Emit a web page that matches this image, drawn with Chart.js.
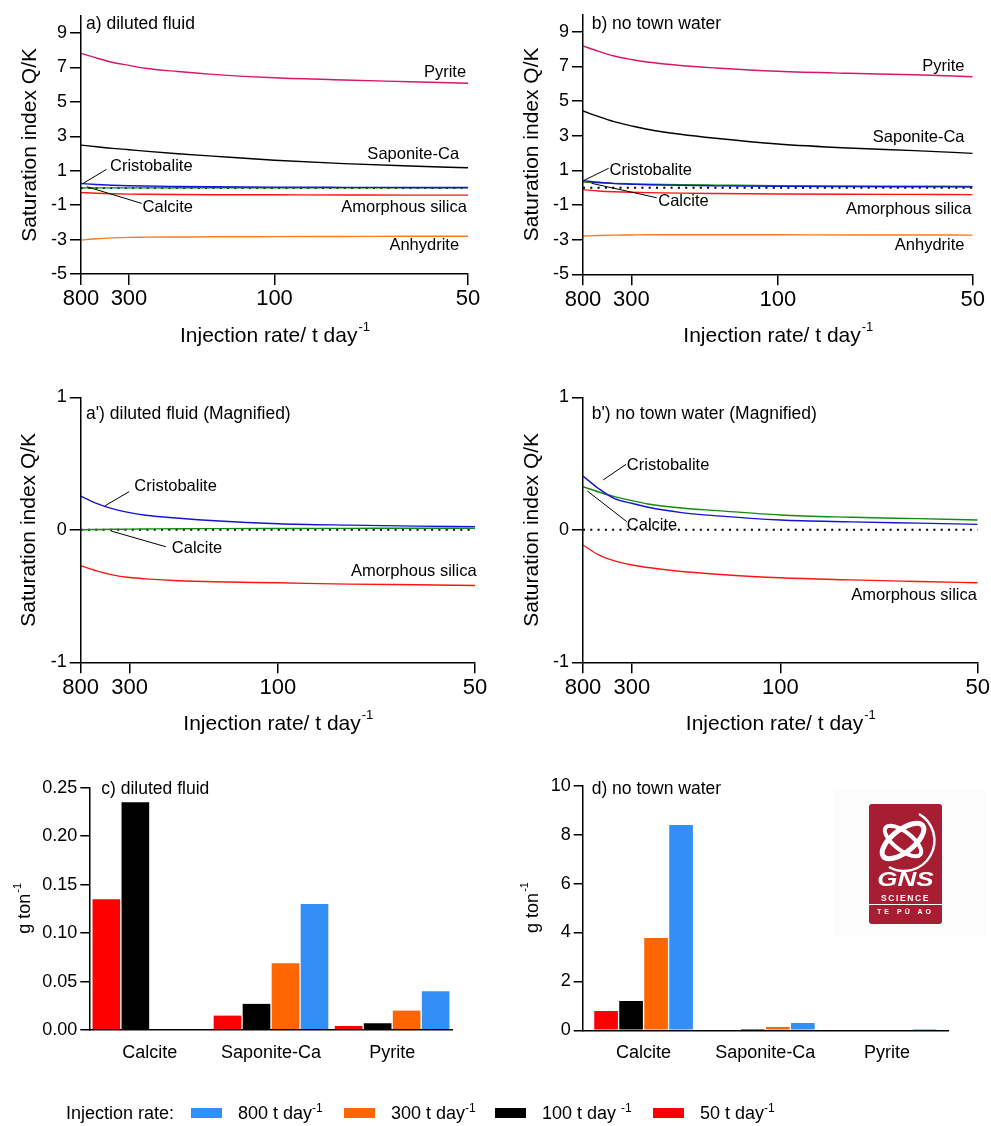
<!DOCTYPE html>
<html>
<head>
<meta charset="utf-8">
<script src="https://cdn.jsdelivr.net/npm/chart.js@4.4.1/dist/chart.umd.min.js"></script>
<style>
  html, body { margin: 0; padding: 0; background: #fff; }
  #fig { position: relative; width: 991px; height: 1126px; overflow: hidden;
         font-family: "Liberation Sans", Arial, sans-serif; color: #000; }
  #fig canvas { position: absolute; left: 0; top: 0; }
  #logoBg { position: absolute; left: 833px; top: 790px; width: 152px; height: 146px; background: #fcfcfc; }
  #logo { position: absolute; left: 869px; top: 804px; width: 73px; height: 120px; background: #a71d31;
          border-radius: 3px; color: #fff; text-align: center; overflow: hidden; }
  #logo svg { position: absolute; left: 0; top: 0; }
  #logo .gns { position: absolute; left: 0; width: 73px; top: 64px; font-weight: bold; font-style: italic;
               font-size: 20px; transform: scaleX(1.3); }
  #logo .sci { position: absolute; left: 0; width: 73px; top: 89px; font-weight: bold; font-size: 8.5px;
               letter-spacing: 1.6px; border-bottom: 1px solid #fff; padding-bottom: 1px; }
  #logo .te { position: absolute; left: 0; width: 73px; top: 104px; font-weight: bold; font-size: 7px; letter-spacing: 3px; }
  #legend { position: absolute; left: 0; top: 1100px; width: 991px; height: 26px; font-size: 18px; }
  #legend .lab { position: absolute; left: 66px; top: 3px; }
  #legend .box { position: absolute; top: 8px; width: 31px; height: 10px; }
  #legend .txt { position: absolute; top: 3px; white-space: pre; }
  #legend sup { font-size: 12px; vertical-align: 7px; line-height: 0; }
</style>
</head>
<body>
<div id="fig">
  <div id="logoBg"></div>
  <canvas id="pa" width="991" height="1126"></canvas>
  <canvas id="pb" width="991" height="1126"></canvas>
  <canvas id="pam" width="991" height="1126"></canvas>
  <canvas id="pbm" width="991" height="1126"></canvas>
  <canvas id="pc" width="991" height="1126"></canvas>
  <canvas id="pd" width="991" height="1126"></canvas>
  <div id="logo">
    <svg width="73" height="72" viewBox="0 0 73 72">
      <ellipse cx="34" cy="37" rx="25" ry="11" fill="none" stroke="#fff" stroke-width="5" transform="rotate(-38 34 37)"/>
      <ellipse cx="34" cy="37" rx="22" ry="9" fill="none" stroke="#fff" stroke-width="4" transform="rotate(38 34 37)"/>
      <path d="M 50 10 A 28 28 0 0 1 20 63" fill="none" stroke="#fff" stroke-width="2.5"/>
    </svg>
    <div class="gns">GNS</div>
    <div class="sci">SCIENCE</div>
    <div class="te">TE PŪ AO</div>
  </div>
  <div id="legend"></div>
</div>
<script>
// x axis: position along the injection-rate axis (0 = 800 t/day, 1 = 50 t/day)
const xPos = [0, 0.04, 0.08, 0.124, 0.165, 0.25, 0.34, 0.5, 0.68, 0.85, 1];
const rateTickPos = [0, 0.124, 0.5, 1];
const rateTickLabels = ['800', '300', '100', '50'];
const siTicksFull = [-5, -3, -1, 1, 3, 5, 7, 9];
const siTicksMag = [-1, 0, 1];

// a) diluted fluid - saturation index
const dilPyrite = [7.82, 7.55, 7.30, 7.12, 6.95, 6.76, 6.60, 6.40, 6.27, 6.17, 6.08];
const dilSaponite = [2.49, 2.39, 2.30, 2.22, 2.14, 1.99, 1.85, 1.61, 1.41, 1.27, 1.17];
const dilCristobalite = [0.255, 0.20, 0.16, 0.13, 0.11, 0.087, 0.068, 0.046, 0.035, 0.028, 0.024];
const dilCalcite = [0.0, 0.002, 0.004, 0.005, 0.006, 0.008, 0.009, 0.010, 0.011, 0.012, 0.012];
const dilAmorphSilica = [-0.27, -0.31, -0.34, -0.36, -0.37, -0.384, -0.392, -0.40, -0.41, -0.415, -0.42];
const dilAnhydrite = [-3.03, -2.95, -2.90, -2.87, -2.86, -2.85, -2.84, -2.83, -2.82, -2.81, -2.81];

// b) no town water - saturation index
const ntwPyrite = [8.18, 7.87, 7.60, 7.40, 7.25, 7.05, 6.91, 6.72, 6.60, 6.52, 6.40];
const ntwSaponite = [4.43, 4.10, 3.81, 3.57, 3.37, 3.08, 2.85, 2.52, 2.29, 2.14, 1.98];
const ntwCristobalite = [0.406, 0.31, 0.235, 0.20, 0.17, 0.13, 0.105, 0.074, 0.060, 0.050, 0.041];
const ntwCalcite = [0.325, 0.285, 0.25, 0.22, 0.195, 0.165, 0.145, 0.112, 0.095, 0.084, 0.074];
const ntwAmorphSilica = [-0.115, -0.19, -0.235, -0.266, -0.285, -0.315, -0.335, -0.362, -0.378, -0.39, -0.40];
const ntwAnhydrite = [-2.79, -2.76, -2.74, -2.73, -2.72, -2.72, -2.72, -2.72, -2.73, -2.73, -2.74];

// c), d) precipitated mass, g per ton
const minerals = ['Calcite', 'Saponite-Ca', 'Pyrite'];
const dil50 = [0.135, 0.015, 0.004];
const dil100 = [0.235, 0.027, 0.007];
const dil300 = [null, 0.069, 0.020];
const dil800 = [null, 0.130, 0.040];
const ntw50 = [0.79, 0, 0];
const ntw100 = [1.2, 0.05, 0];
const ntw300 = [3.77, 0.13, 0];
const ntw800 = [8.39, 0.30, 0.05];
const massTicksC = [0, 0.05, 0.10, 0.15, 0.20, 0.25];
const massTicksD = [0, 2, 4, 6, 8, 10];

const legendLabels = ['800 t day', '300 t day', '100 t day ', '50 t day'];
const legendColors = ['#338ff5', '#ff6600', '#000000', '#ff0000'];

const FONT = '"Liberation Sans", Arial, sans-serif';
const W = 991, H = 1126;
const C = { pyrite: '#d8156a', saponite: '#000000', cristobalite: '#1414d2',
            calcite: '#148a14', silica: '#ff1414', anhydrite: '#ff7a1f' };

function drawSup(ctx, main, sup, cx, cy, size) {
  ctx.font = size + 'px ' + FONT;
  const w1 = ctx.measureText(main).width;
  const ss = Math.round(size * 0.62);
  ctx.font = ss + 'px ' + FONT;
  const w2 = sup ? ctx.measureText(sup).width : 0;
  const x0 = cx - (w1 + w2) / 2;
  ctx.textAlign = 'left';
  ctx.textBaseline = 'middle';
  ctx.font = size + 'px ' + FONT;
  ctx.fillText(main, x0, cy);
  if (sup) {
    ctx.font = ss + 'px ' + FONT;
    ctx.fillText(sup, x0 + w1 + 1, cy - size * 0.42);
  }
}

function notesPlugin(spec) {
  return {
    id: 'notes',
    afterDraw(chart) {
      const { ctx, chartArea: ca, scales } = chart;
      ctx.save();
      ctx.fillStyle = '#000';
      ctx.strokeStyle = '#000';
      ctx.lineWidth = 1;
      // panel title
      ctx.font = '17.5px ' + FONT;
      ctx.textAlign = 'left';
      ctx.textBaseline = 'middle';
      ctx.fillText(spec.title, ca.left + spec.titleOff[0], ca.top + spec.titleOff[1]);
      // y title
      ctx.save();
      ctx.translate(ca.left - spec.yTitleDx, (ca.top + ca.bottom) / 2);
      ctx.rotate(-Math.PI / 2);
      drawSup(ctx, spec.yTitle[0], spec.yTitle[1], 0, 0, spec.yTitleSize);
      ctx.restore();
      // x title
      if (spec.xTitle) {
        drawSup(ctx, spec.xTitle[0], spec.xTitle[1], (ca.left + ca.right) / 2, ca.bottom + 62, 21);
      }
      // curve labels
      (spec.labels || []).forEach(n => {
        const x = scales.x, y = scales.y;
        ctx.font = '16.5px ' + FONT;
        ctx.textAlign = n.align;
        ctx.textBaseline = 'middle';
        ctx.fillText(n.text, x.getPixelForValue(n.x), y.getPixelForValue(n.y));
        if (n.from) {
          ctx.beginPath();
          ctx.moveTo(x.getPixelForValue(n.from[0]), y.getPixelForValue(n.from[1]));
          ctx.lineTo(x.getPixelForValue(n.to[0]), y.getPixelForValue(n.to[1]));
          ctx.stroke();
        }
      });
      ctx.restore();
    }
  };
}

function makeLineChart(id, box, yMin, yMax, yTicks, series, spec) {
  const Wy = 70, Hx = 45;
  const datasets = series.map(s => ({
    data: s.values.map((v, i) => ({ x: xPos[i], y: v })),
    borderColor: s.color,
    borderWidth: 1.4,
    pointRadius: 0,
    fill: false,
    cubicInterpolationMode: 'monotone'
  }));
  datasets.push({
    data: [{ x: 0, y: 0 }, { x: 1, y: 0 }],
    borderColor: '#000',
    borderWidth: 2,
    borderDash: [2, 5.3],
    pointRadius: 0,
    fill: false
  });
  new Chart(document.getElementById(id), {
    type: 'line',
    data: { datasets },
    options: {
      responsive: false,
      animation: false,
      devicePixelRatio: 1,
      layout: { padding: { left: box.left - Wy, right: W - box.right, top: box.top, bottom: H - box.bottom - Hx } },
      plugins: { legend: { display: false }, tooltip: { enabled: false } },
      scales: {
        x: {
          type: 'linear', min: 0, max: 1,
          afterFit: s => { s.height = Hx; },
          afterBuildTicks: s => { s.ticks = rateTickPos.map(v => ({ value: v })); },
          ticks: { autoSkip: false, maxRotation: 0, padding: 1, color: '#000',
                   font: { family: FONT, size: 22 }, callback: (v, i) => rateTickLabels[i] },
          grid: { drawOnChartArea: false, tickLength: 11, color: '#000', lineWidth: 1.5 },
          border: { color: '#000', width: 1.5, z: 1 }
        },
        y: {
          type: 'linear', min: yMin, max: yMax,
          afterFit: s => { s.width = Wy; },
          afterBuildTicks: s => { s.ticks = yTicks.map(v => ({ value: v })); },
          ticks: { autoSkip: false, padding: 3, color: '#000', font: { family: FONT, size: 18 } },
          grid: { drawOnChartArea: false, tickLength: 11, color: '#000', lineWidth: 1.5 },
          border: { color: '#000', width: 1.5, z: 1 }
        }
      }
    },
    plugins: [notesPlugin(spec)]
  });
}

function makeBarChart(id, box, yMax, yTicks, values, thickness, fmt, spec) {
  const Wy = 60, Hx = 40;
  const colors = ['#ff0000', '#000000', '#ff6600', '#338ff5'];
  new Chart(document.getElementById(id), {
    type: 'bar',
    data: {
      labels: minerals,
      datasets: values.map((v, i) => ({
        data: v,
        backgroundColor: colors[i],
        borderColor: '#fff',
        borderWidth: { left: 1, right: 1, top: 0, bottom: 0 },
        barThickness: thickness
      }))
    },
    options: {
      responsive: false,
      animation: false,
      devicePixelRatio: 1,
      layout: { padding: { left: box.left - Wy, right: W - box.right, top: box.top, bottom: H - box.bottom - Hx } },
      plugins: { legend: { display: false }, tooltip: { enabled: false } },
      scales: {
        x: {
          type: 'category',
          afterFit: s => { s.height = Hx; },
          ticks: { padding: 12, color: '#000', font: { family: FONT, size: 18 }, maxRotation: 0 },
          grid: { display: false, drawTicks: false },
          border: { color: '#000', width: 1.5, z: 1 }
        },
        y: {
          type: 'linear', min: 0, max: yMax,
          afterFit: s => { s.width = Wy; },
          afterBuildTicks: s => { s.ticks = yTicks.map(v => ({ value: v })); },
          ticks: { autoSkip: false, padding: 3, color: '#000', font: { family: FONT, size: 18 }, callback: fmt },
          grid: { drawOnChartArea: false, tickLength: 9, color: '#000', lineWidth: 1.5 },
          border: { color: '#000', width: 1.5, z: 1 }
        }
      }
    },
    plugins: [notesPlugin(spec)]
  });
}

const SI_TITLE = ['Saturation index Q/K', ''];
const X_TITLE = ['Injection rate/ t day', '-1'];
const MASS_TITLE = ['g ton', '-1'];

makeLineChart('pa', { left: 81, right: 468, top: 15.8, bottom: 274 }, -5, 10, siTicksFull, [
  { values: dilPyrite, color: C.pyrite },
  { values: dilSaponite, color: C.saponite },
  { values: dilAnhydrite, color: C.anhydrite },
  { values: dilAmorphSilica, color: C.silica },
  { values: dilCristobalite, color: C.cristobalite },
  { values: dilCalcite, color: C.calcite }
], {
  title: 'a) diluted fluid', titleOff: [5, 8], yTitle: SI_TITLE, yTitleDx: 51, yTitleSize: 21, xTitle: X_TITLE,
  labels: [
    { text: 'Pyrite', x: 0.995, y: 6.68, align: 'right' },
    { text: 'Saponite-Ca', x: 0.977, y: 1.97, align: 'right' },
    { text: 'Amorphous silica', x: 0.997, y: -1.15, align: 'right' },
    { text: 'Anhydrite', x: 0.977, y: -3.32, align: 'right' },
    { text: 'Cristobalite', x: 0.075, y: 1.23, align: 'left', from: [0.006, 0.27], to: [0.066, 1.08] },
    { text: 'Calcite', x: 0.159, y: -1.15, align: 'left', from: [0.015, 0.07], to: [0.157, -0.9] }
  ]
});

makeLineChart('pb', { left: 583, right: 972.7, top: 14.4, bottom: 274.3 }, -5, 10, siTicksFull, [
  { values: ntwPyrite, color: C.pyrite },
  { values: ntwSaponite, color: C.saponite },
  { values: ntwAnhydrite, color: C.anhydrite },
  { values: ntwAmorphSilica, color: C.silica },
  { values: ntwCristobalite, color: C.cristobalite },
  { values: ntwCalcite, color: C.calcite }
], {
  title: 'b) no town water', titleOff: [8.7, 10], yTitle: SI_TITLE, yTitleDx: 51, yTitleSize: 21, xTitle: X_TITLE,
  labels: [
    { text: 'Pyrite', x: 0.979, y: 6.98, align: 'right' },
    { text: 'Saponite-Ca', x: 0.979, y: 2.91, align: 'right' },
    { text: 'Amorphous silica', x: 0.997, y: -1.23, align: 'right' },
    { text: 'Anhydrite', x: 0.979, y: -3.35, align: 'right' },
    { text: 'Cristobalite', x: 0.068, y: 1.02, align: 'left', from: [0.0, 0.39], to: [0.066, 1.12] },
    { text: 'Calcite', x: 0.193, y: -0.81, align: 'left', from: [0.022, 0.25], to: [0.189, -0.58] }
  ]
});

makeLineChart('pam', { left: 80.7, right: 475, top: 397.3, bottom: 662.3 }, -1, 1, siTicksMag, [
  { values: dilAmorphSilica, color: C.silica },
  { values: dilCristobalite, color: C.cristobalite },
  { values: dilCalcite, color: C.calcite }
], {
  title: "a') diluted fluid (Magnified)", titleOff: [5.3, 17], yTitle: SI_TITLE, yTitleDx: 51, yTitleSize: 21, xTitle: X_TITLE,
  labels: [
    { text: 'Cristobalite', x: 0.136, y: 0.325, align: 'left', from: [0.062, 0.182], to: [0.123, 0.288] },
    { text: 'Calcite', x: 0.231, y: -0.14, align: 'left', from: [0.077, -0.009], to: [0.216, -0.128] },
    { text: 'Amorphous silica', x: 1.004, y: -0.316, align: 'right' }
  ]
});

makeLineChart('pbm', { left: 583, right: 977.7, top: 397.3, bottom: 662.3 }, -1, 1, siTicksMag, [
  { values: ntwAmorphSilica, color: C.silica },
  { values: ntwCristobalite, color: C.cristobalite },
  { values: ntwCalcite, color: C.calcite }
], {
  title: "b') no town water (Magnified)", titleOff: [8.7, 17], yTitle: SI_TITLE, yTitleDx: 51, yTitleSize: 21, xTitle: X_TITLE,
  labels: [
    { text: 'Cristobalite', x: 0.111, y: 0.484, align: 'left', from: [0.051, 0.376], to: [0.109, 0.494] },
    { text: 'Calcite', x: 0.111, y: 0.036, align: 'left', from: [0.011, 0.293], to: [0.111, 0.061] },
    { text: 'Amorphous silica', x: 0.998, y: -0.497, align: 'right' }
  ]
});

makeBarChart('pc', { left: 89.3, right: 452.7, top: 787.7, bottom: 1030 }, 0.25, massTicksC,
  [dil50, dil100, dil300, dil800], 29, v => v.toFixed(2),
  { title: 'c) diluted fluid', titleOff: [12, 1.5], yTitle: MASS_TITLE, yTitleDx: 64, yTitleSize: 18 });

makeBarChart('pd', { left: 582.7, right: 948, top: 785.7, bottom: 1030.3 }, 10, massTicksD,
  [ntw50, ntw100, ntw300, ntw800], 25, v => String(v),
  { title: 'd) no town water', titleOff: [9, 3], yTitle: MASS_TITLE, yTitleDx: 50, yTitleSize: 18 });

// legend
const legendBoxX = [191, 344, 495, 653];
const legend = document.getElementById('legend');
legend.innerHTML = '<span class="lab">Injection rate:</span>' + legendLabels.map((t, i) =>
  '<span class="box" style="left:' + legendBoxX[i] + 'px;background:' + legendColors[i] + '"></span>' +
  '<span class="txt" style="left:' + (legendBoxX[i] + 47) + 'px">' + t + '<sup>-1</sup></span>').join('');
</script>
</body>
</html>
